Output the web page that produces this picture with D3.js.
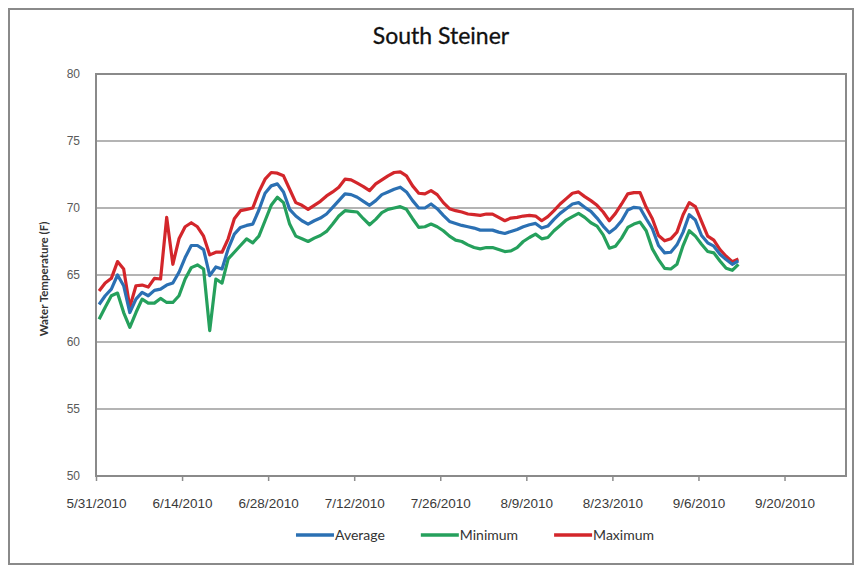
<!DOCTYPE html>
<html>
<head>
<meta charset="utf-8">
<script src="https://cdn.jsdelivr.net/npm/d3@7"></script>
<style>
  body { margin: 0; background: #fff; }
  svg { display: block; font-family: Lato, "Open Sans", sans-serif; }
  .grid line { stroke: #b4b4b4; stroke-width: 2; }
  .y-axis text { fill: #5a5a5a; font-size: 12px; }
  .x-axis text { fill: #3a3a3a; font-size: 13.5px; }
  .x-axis line { stroke: #8c8c8c; stroke-width: 1.5; }
  .series { fill: none; stroke-width: 3.2; stroke-linejoin: round; }
</style>
</head>
<body>
<div id="chart"></div>
<script>
(function (d3) {
    'use strict';

    // Daily readings, 5/31/2010 onward.
    var startDate = new Date(2010, 4, 31);

    var maxTemp = [
        63.8, 64.4, 64.75, 66.0, 65.45, 62.6, 64.2, 64.25, 64.1, 64.75,
        64.7, 69.3, 65.8, 67.7, 68.6, 68.9, 68.6, 67.9, 66.5, 66.7,
        66.7, 67.7, 69.2, 69.8, 69.9, 70.0, 71.2, 72.15, 72.65, 72.6,
        72.4, 71.4, 70.4, 70.2, 69.9, 70.2, 70.5, 70.9, 71.2, 71.55,
        72.15, 72.1, 71.85, 71.6, 71.3, 71.8, 72.1, 72.4, 72.65, 72.7,
        72.4, 71.65, 71.1, 71.05, 71.3, 71.0, 70.4, 69.95, 69.8, 69.7,
        69.55, 69.5, 69.45, 69.55, 69.55, 69.3, 69.05, 69.25, 69.3, 69.4,
        69.45, 69.4, 69.05, 69.35, 69.8, 70.3, 70.7, 71.1, 71.2, 70.85,
        70.55, 70.2, 69.7, 69.05, 69.6, 70.3, 71.05, 71.15, 71.15, 70.05,
        69.2, 67.95, 67.55, 67.7, 68.2, 69.5, 70.4, 70.1, 69.0, 67.9,
        67.6, 66.9, 66.4, 66.0, 66.2
    ];

    var avgTemp = [
        62.8, 63.45, 63.95, 65.0, 64.2, 62.2, 63.2, 63.7, 63.45, 63.85,
        63.95, 64.25, 64.4, 65.2, 66.3, 67.2, 67.2, 66.9, 64.95, 65.6,
        65.45, 66.95, 68.05, 68.55, 68.7, 68.8, 69.85, 71.1, 71.65, 71.8,
        71.2, 69.9, 69.4, 69.05, 68.8, 69.05, 69.25, 69.55, 70.05, 70.55,
        71.05, 71.0, 70.8, 70.5, 70.2, 70.55, 71.0, 71.2, 71.4, 71.55,
        71.2, 70.55, 70.0, 70.0, 70.3, 69.95, 69.45, 69.0, 68.85, 68.7,
        68.6, 68.5, 68.35, 68.35, 68.35, 68.2, 68.1, 68.25, 68.4, 68.6,
        68.75, 68.85, 68.5, 68.65, 69.15, 69.6, 69.95, 70.3, 70.4, 70.05,
        69.75, 69.25, 68.65, 68.15, 68.5, 69.05, 69.85, 70.05, 70.0, 69.2,
        68.45, 67.2, 66.65, 66.7, 67.25, 68.2, 69.5, 69.1, 67.95, 67.4,
        67.15, 66.55, 66.15, 65.8, 66.05
    ];

    var minTemp = [
        61.7, 62.6, 63.45, 63.65, 62.2, 61.1, 62.2, 63.2, 62.9, 62.9,
        63.25, 62.95, 62.95, 63.45, 64.7, 65.55, 65.75, 65.45, 60.85, 64.7,
        64.4, 66.2, 66.7, 67.2, 67.7, 67.4, 67.9, 69.05, 70.2, 70.8,
        70.4, 68.8, 67.9, 67.7, 67.5, 67.75, 67.95, 68.25, 68.8, 69.4,
        69.8, 69.75, 69.7, 69.2, 68.75, 69.15, 69.65, 69.9, 70.0, 70.1,
        69.9, 69.2, 68.55, 68.6, 68.8, 68.6, 68.3, 67.9, 67.6, 67.5,
        67.25, 67.05, 66.95, 67.05, 67.05, 66.9, 66.75, 66.8, 67.05, 67.5,
        67.8, 68.05, 67.7, 67.8, 68.3, 68.7, 69.1, 69.35, 69.6, 69.3,
        68.9, 68.65, 68.0, 67.0, 67.15, 67.75, 68.55, 68.8, 68.95, 68.3,
        66.95, 66.15, 65.5, 65.45, 65.8, 67.2, 68.3, 67.9, 67.3, 66.75,
        66.65, 66.05, 65.5, 65.35, 65.8
    ];

    var seriesNames = ['Average', 'Minimum', 'Maximum'];
    var seriesColors = ['#2b70b3', '#25a05c', '#d3262b'];
    var seriesValues = [avgTemp, minTemp, maxTemp];

    var tickDates = ['2010-05-31', '2010-06-14', '2010-06-28', '2010-07-12',
        '2010-07-26', '2010-08-09', '2010-08-23', '2010-09-06', '2010-09-20'];
    var yTicks = [50, 55, 60, 65, 70, 75, 80];

    var dates = d3.timeDay.range(startDate, d3.timeDay.offset(startDate, maxTemp.length));
    var parse = d3.timeParse('%Y-%m-%d');
    var fmt = d3.timeFormat('%-m/%-d/%Y');

    var W = 862, H = 569;
    var margin = {top: 74, right: 16, bottom: 93, left: 96};
    var width = W - margin.left - margin.right;
    var height = H - margin.top - margin.bottom;

    var x = d3.scaleTime()
        .domain([startDate, new Date(2010, 8, 30)])
        .range([0, width]);
    var y = d3.scaleLinear().domain([50, 80]).range([height, 0]);

    var svg = d3.select('#chart').append('svg')
        .attr('width', W)
        .attr('height', H);

    // Chart area frame.
    svg.append('rect')
        .attr('x', 9).attr('y', 9)
        .attr('width', W - 18).attr('height', H - 14)
        .attr('fill', 'none')
        .attr('stroke', '#8a8a8a')
        .attr('stroke-width', 2);

    svg.append('text')
        .attr('x', 441).attr('y', 44)
        .attr('text-anchor', 'middle')
        .attr('font-size', 23)
        .attr('fill', '#111')
        .attr('stroke', '#111')
        .attr('stroke-width', 0.3)
        .text('South Steiner');

    var vis = svg.append('g')
        .attr('transform', 'translate(' + margin.left + ',' + margin.top + ')');

    // Horizontal gridlines.
    vis.append('g')
        .attr('class', 'grid')
        .selectAll('line')
        .data(yTicks.slice(1, -1))
        .enter().append('line')
        .attr('x1', 0).attr('x2', width)
        .attr('y1', function (d) { return y(d); })
        .attr('y2', function (d) { return y(d); });

    // Y axis labels.
    vis.append('g')
        .attr('class', 'y-axis')
        .call(d3.axisLeft(y).tickValues(yTicks).tickSize(0).tickPadding(16))
        .call(function (g) { g.select('.domain').remove(); });

    // X axis.
    vis.append('g')
        .attr('class', 'x-axis')
        .attr('transform', 'translate(0,' + height + ')')
        .call(d3.axisBottom(x)
            .tickValues(tickDates.map(parse))
            .tickFormat(fmt)
            .tickSize(5)
            .tickPadding(17))
        .call(function (g) { g.select('.domain').remove(); });

    // Plot area border.
    vis.append('rect')
        .attr('width', width).attr('height', height)
        .attr('fill', 'none')
        .attr('stroke', '#8a8a8a')
        .attr('stroke-width', 2);

    svg.append('text')
        .attr('transform', 'translate(48,' + (margin.top + height / 2 + 4) + ') rotate(-90)')
        .attr('text-anchor', 'middle')
        .attr('font-size', 11.5)
        .attr('font-weight', 'bold')
        .attr('fill', '#333')
        .text('Water Temperature (F)');

    // Series lines, drawn at midday of each reading.
    var line = d3.line()
        .x(function (d) { return x(d3.timeHour.offset(d.date, 12)); })
        .y(function (d) { return y(d.value); });

    [1, 2, 0].forEach(function (i) {
        var pts = seriesValues[i].map(function (v, k) { return {date: dates[k], value: v}; });
        vis.append('path')
            .datum(pts)
            .attr('class', 'series')
            .attr('stroke', seriesColors[i])
            .attr('d', line);
    });

    // Legend.
    var legend = svg.append('g').attr('transform', 'translate(0,535)');
    var items = legend.selectAll('g')
        .data(seriesNames)
        .enter().append('g');
    items.append('line')
        .attr('x1', 0).attr('x2', 38)
        .attr('stroke-width', 3.5)
        .attr('stroke', function (d, i) { return seriesColors[i]; });
    items.append('text')
        .attr('x', 39).attr('y', 5)
        .attr('font-size', 14)
        .attr('fill', '#333')
        .text(function (d) { return d; });

    var gap = 36, offsets = [], total = 0;
    items.each(function () {
        var w = this.getBBox().width;
        offsets.push(total);
        total += w + gap;
    });
    total -= gap;
    var start = 475 - total / 2;
    items.attr('transform', function (d, i) { return 'translate(' + (start + offsets[i]) + ',0)'; });
})(d3);
</script>
</body>
</html>
